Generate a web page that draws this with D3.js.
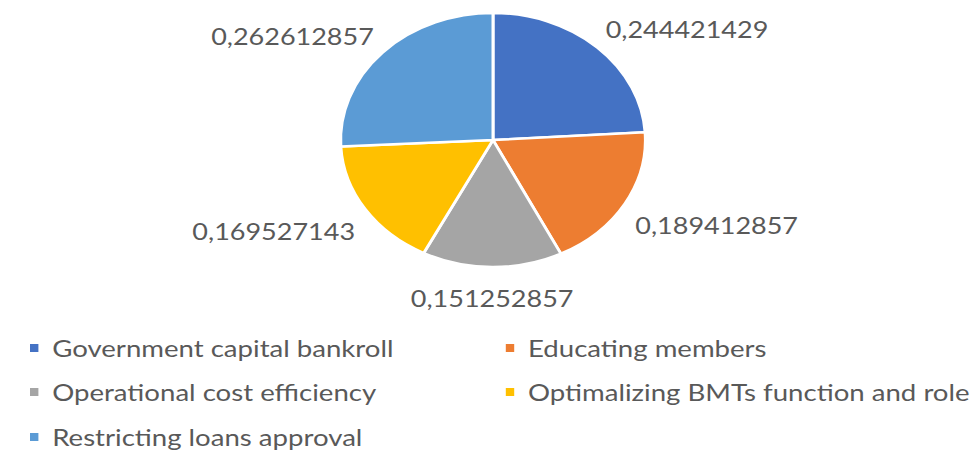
<!DOCTYPE html>
<html>
<head>
<meta charset="utf-8">
<script src="https://cdn.jsdelivr.net/npm/d3@7"></script>
<style>
  html, body { margin: 0; padding: 0; background: #fff; }
  svg { display: block; }
  text { font-family: Lato, "Open Sans", sans-serif; fill: #595959; }
</style>
</head>
<body>
<svg id="chart" width="977" height="474"></svg>
<script>
// Factors and their weights
const categories = [
  "Government capital bankroll",
  "Educating members",
  "Operational cost efficiency",
  "Optimalizing BMTs function and role",
  "Restricting loans approval"
];
const values = [0.244421429, 0.189412857, 0.151252857, 0.169527143, 0.262612857];
const valueLabels = ["0,244421429", "0,189412857", "0,151252857", "0,169527143", "0,262612857"];
const colors = ["#4472C4", "#ED7D31", "#A5A5A5", "#FFC000", "#5B9BD5"];

const W = 977, H = 474;
const stretchX = 1.2;           // the whole chart is drawn slightly widened
const cx = 493 / stretchX, cy = 140, radius = 127;
const labelGapX = 10, labelGapY = 31;
const labelFont = 22.5, legendFont = 23;

const svg = d3.select("#chart");
const root = svg.append("g").attr("transform", `scale(${stretchX},1)`);

const data = categories.map((c, i) => ({ name: c, value: values[i], label: valueLabels[i], color: colors[i] }));

const pie = d3.pie().sort(null).value(d => d.value);
const arcs = pie(data);
const arc = d3.arc().innerRadius(0).outerRadius(radius);

const pieG = root.append("g").attr("transform", `translate(${cx},${cy})`);
pieG.selectAll("path")
  .data(arcs)
  .join("path")
  .attr("d", arc)
  .attr("fill", d => d.data.color)
  .attr("stroke", "#fff")
  .attr("stroke-width", 2.5)
  .attr("stroke-linejoin", "round");

// Value labels placed just outside each slice, anchored away from the pie
pieG.append("g").selectAll("text")
  .data(arcs)
  .join("text")
  .attr("font-size", labelFont)
  .attr("dominant-baseline", "central")
  .each(function (a) {
    const mid = (a.startAngle + a.endAngle) / 2;
    const s = Math.sin(mid), c = Math.cos(mid);
    const px = s * (radius + labelGapX);
    const py = -c * (radius + labelGapY) + 6.5 * Math.abs(s);
    d3.select(this)
      .attr("x", px)
      .attr("y", py)
      .attr("text-anchor", Math.abs(s) < 0.3 ? "middle" : (s > 0 ? "start" : "end"))
      .text(a.data.label);
  });

// Legend: two columns, three rows
const legendCols = [25, 421.5];
const legendRows = [348, 392, 437];
const legend = root.append("g");
data.forEach((d, i) => {
  const col = i % 2, row = Math.floor(i / 2);
  const g = legend.append("g").attr("transform", `translate(${legendCols[col]},${legendRows[row]})`);
  g.append("rect").attr("x", 0).attr("y", -4).attr("width", 7).attr("height", 8).attr("fill", d.color);
  g.append("text")
    .attr("x", 18.5)
    .attr("y", 0)
    .attr("dominant-baseline", "central")
    .attr("font-size", legendFont)
    .text(d.name);
});
</script>
</body>
</html>
